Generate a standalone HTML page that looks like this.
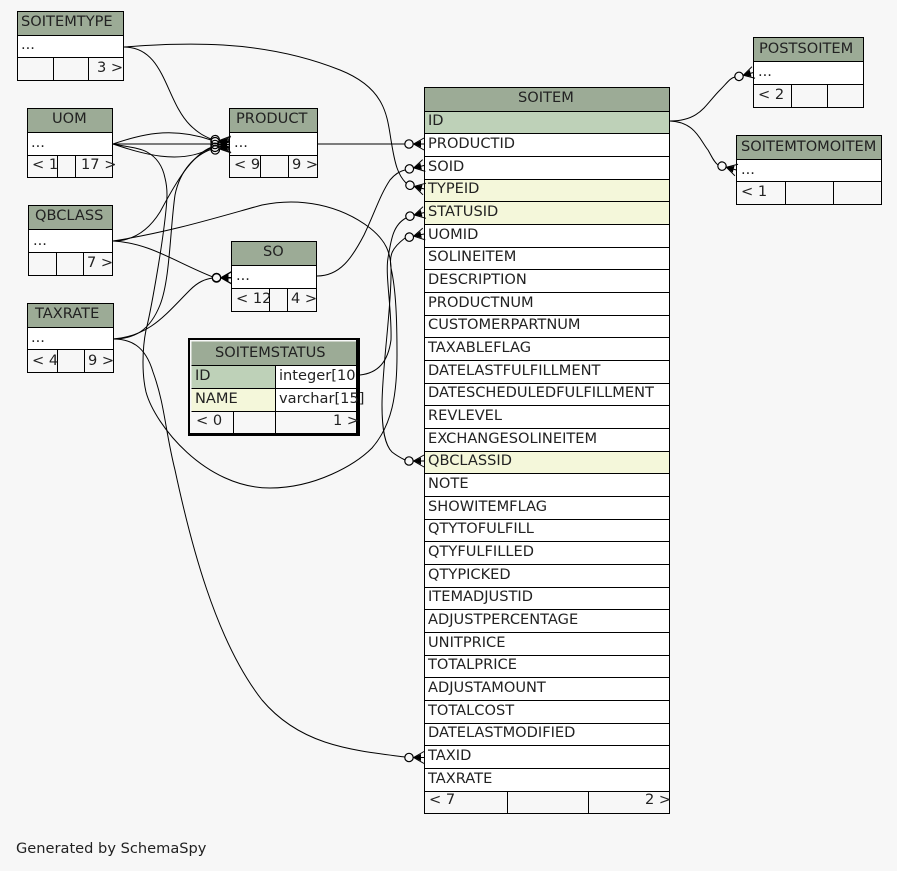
<!DOCTYPE html>
<html><head><meta charset="utf-8"><style>
html,body{margin:0;padding:0;background:#f7f7f7}
svg{display:block}
text{font-family:"DejaVu Sans","Liberation Sans",sans-serif;font-size:14.6px;fill:#222}
.t{fill:none;stroke:#000;stroke-width:1}
.e{fill:none;stroke:#000;stroke-width:1}
</style></head><body>
<svg xmlns="http://www.w3.org/2000/svg" width="897" height="871" viewBox="0 0 897 871">
<defs>
<g id="h">
<circle cx="-15" cy="0" r="4.2" fill="none" stroke="#000" stroke-width="1.2"/>
<path d="M-10.5,0 L-3,-3.5 L-3,3.5 Z" fill="#000"/>
<path d="M-10.5,0 L0,-6 M-10.5,0 L0,6 M-10.5,0 L0,0" stroke="#000" stroke-width="1" fill="none"/>
</g>
</defs>
<rect width="897" height="871" fill="#f7f7f7"/>

<!-- edges -->
<g class="e">
<path d="M317,144 L405,144"/>
<path d="M124,47 C165,47 165,100 190,125 C198,133 204,136 211,139"/>
<path d="M124,47 C180,43 260,38 340,70 C385,88 387,115 391,140 C395,165 398,175 406,183"/>
<path d="M113,144 L211,144"/>
<path d="M113,144 C140,135 170,126 211,140"/>
<path d="M113,144 C140,153 180,166 211,148"/>
<path d="M113,144 C128,147 140,148 147,152 C158,158 163,168 165,178 C168,190 167,200 166,210 C162,250 150,315 146,330 C142,350 142,375 146,392 C155,425 205,488 270,488 C315,488 355,465 372,448 C392,425 397,395 397,355 C397,320 396,290 391,268 C389,255 392,248 405,238"/>
<path d="M113,241 C135,241 150,228 160,212 C172,190 190,155 212,147"/>
<path d="M113,339 C135,339 150,330 160,305 C170,280 170,230 175,195 C180,170 195,155 212,149"/>
<path d="M113,241 C170,232 215,218 262,205 C300,197 340,205 370,228 C385,240 392,252 391,275 C391,310 382,370 382,405 C382,430 385,445 392,452 C397,456 401,458 405,460"/>
<path d="M113,241 C150,243 175,262 213,277"/>
<path d="M113,339 C150,336 165,315 190,290 C198,282 205,279 213,278"/>
<path d="M113,339 C130,339 145,345 153,372 C165,405 165,430 175,470 C190,540 215,640 262,700 C300,745 350,750 405,757"/>
<path d="M360,375 C378,373 388,362 391,340 C392,310 385,275 388,258 C391,240 393,225 406,218"/>
<path d="M317,276 C340,276 352,258 364,235 C375,212 380,195 390,180 C395,174 400,171 405,170"/>
<path d="M670,121 C700,121 705,105 720,90 C727,83 730,78 735,77"/>
<path d="M670,121 C695,122 700,140 708,150 C712,157 714,162 718,165"/>
</g>

<!-- SOITEMTYPE -->
<rect x="17.5" y="11.5" width="106" height="24" fill="#9cab96"/>
<rect x="17.5" y="35.5" width="106" height="22" fill="#fff"/>
<path class="t" d="M17.5,11.5H123.5V80.5H17.5Z M17.5,35.5H123.5 M17.5,57.5H123.5 M53.5,57.5V80.5 M88.5,57.5V80.5"/>
<text x="21" y="26">SOITEMTYPE</text><text x="21" y="49">...</text><text x="97" y="72">3 &gt;</text>

<!-- UOM -->
<rect x="27.5" y="108.5" width="85" height="24" fill="#9cab96"/>
<rect x="27.5" y="132.5" width="85" height="23" fill="#fff"/>
<path class="t" d="M27.5,108.5H112.5V177.5H27.5Z M27.5,132.5H112.5 M27.5,155.5H112.5 M57.5,155.5V177.5 M75.5,155.5V177.5"/>
<text x="52" y="123">UOM</text><text x="31" y="147">...</text><text x="32" y="169">&lt; 1</text><text x="81" y="169">17 &gt;</text>

<!-- PRODUCT -->
<rect x="229.5" y="108.5" width="88" height="24" fill="#9cab96"/>
<rect x="229.5" y="132.5" width="88" height="23" fill="#fff"/>
<path class="t" d="M229.5,108.5H317.5V177.5H229.5Z M229.5,132.5H317.5 M229.5,155.5H317.5 M260.5,155.5V177.5 M288.5,155.5V177.5"/>
<text x="236" y="123">PRODUCT</text><text x="234" y="147">...</text><text x="234" y="169">&lt; 9</text><text x="292" y="169">9 &gt;</text>

<!-- QBCLASS -->
<rect x="28.5" y="205.5" width="84" height="24" fill="#9cab96"/>
<rect x="28.5" y="229.5" width="84" height="23" fill="#fff"/>
<path class="t" d="M28.5,205.5H112.5V275.5H28.5Z M28.5,229.5H112.5 M28.5,252.5H112.5 M56.5,252.5V275.5 M83.5,252.5V275.5"/>
<text x="35" y="220">QBCLASS</text><text x="33" y="245">...</text><text x="87" y="267">7 &gt;</text>

<!-- TAXRATE -->
<rect x="27.5" y="303.5" width="86" height="24" fill="#9cab96"/>
<rect x="27.5" y="327.5" width="86" height="22" fill="#fff"/>
<path class="t" d="M27.5,303.5H113.5V372.5H27.5Z M27.5,327.5H113.5 M27.5,349.5H113.5 M57.5,349.5V372.5 M84.5,349.5V372.5"/>
<text x="35" y="318">TAXRATE</text><text x="31" y="342">...</text><text x="32" y="365">&lt; 4</text><text x="88" y="365">9 &gt;</text>

<!-- SO -->
<rect x="231.5" y="241.5" width="85" height="24" fill="#9cab96"/>
<rect x="231.5" y="265.5" width="85" height="23" fill="#fff"/>
<path class="t" d="M231.5,241.5H316.5V311.5H231.5Z M231.5,265.5H316.5 M231.5,288.5H316.5 M269.5,288.5V311.5 M287.5,288.5V311.5"/>
<text x="263" y="256">SO</text><text x="236" y="280">...</text><text x="236" y="303">&lt; 12</text><text x="291" y="303">4 &gt;</text>

<!-- SOITEMSTATUS -->
<rect x="189" y="339" width="170" height="96" fill="#f7f7f7" stroke="#000" stroke-width="2"/>
<rect x="191.5" y="341.5" width="165" height="24" fill="#9cab96"/>
<rect x="191.5" y="365.5" width="84" height="23" fill="#bed1b8"/>
<rect x="191.5" y="388.5" width="84" height="23" fill="#f4f7da"/>
<rect x="275.5" y="365.5" width="81" height="46" fill="#fff"/>
<path class="t" d="M191.5,365.5H356.5 M191.5,388.5H356.5 M191.5,411.5H356.5 M275.5,365.5V433 M233.5,411.5V433"/>
<rect x="356" y="339" width="4" height="97" fill="#000"/>
<rect x="188" y="433" width="172" height="3" fill="#000"/>
<text x="215" y="357">SOITEMSTATUS</text>
<text x="195" y="380">ID</text><text x="279" y="380">integer[10</text>
<text x="195" y="403">NAME</text><text x="279" y="403">varchar[15]</text>
<text x="196" y="425">&lt; 0</text><text x="333" y="425">1 &gt;</text>

<!-- POSTSOITEM -->
<rect x="753.5" y="37.5" width="110" height="24" fill="#9cab96"/>
<rect x="753.5" y="61.5" width="110" height="23" fill="#fff"/>
<path class="t" d="M753.5,37.5H863.5V107.5H753.5Z M753.5,61.5H863.5 M753.5,84.5H863.5 M791.5,84.5V107.5 M827.5,84.5V107.5"/>
<text x="759" y="53">POSTSOITEM</text><text x="758" y="76">...</text><text x="758" y="99">&lt; 2</text>

<!-- SOITEMTOMOITEM -->
<rect x="736.5" y="135.5" width="145" height="24" fill="#9cab96"/>
<rect x="736.5" y="159.5" width="145" height="22" fill="#fff"/>
<path class="t" d="M736.5,135.5H881.5V204.5H736.5Z M736.5,159.5H881.5 M736.5,181.5H881.5 M785.5,181.5V204.5 M833.5,181.5V204.5"/>
<text x="741" y="151">SOITEMTOMOITEM</text><text x="741" y="174">...</text><text x="741" y="196">&lt; 1</text>

<!-- SOITEM -->
<rect x="424.5" y="87.5" width="245" height="24" fill="#9cab96"/>
<rect x="424.5" y="111.5" width="245" height="680" fill="#fff"/>
<rect x="424.5" y="111.5" width="245" height="22" fill="#bed1b8"/>
<rect x="424.5" y="179.5" width="245" height="45" fill="#f4f7da"/>
<rect x="424.5" y="451.5" width="245" height="22" fill="#f4f7da"/>
<path class="t" d="M424.5,87.5H669.5V813.5H424.5Z M424.5,111.5H669.5 M424.5,133.5H669.5 M424.5,156.5H669.5 M424.5,179.5H669.5 M424.5,201.5H669.5 M424.5,224.5H669.5 M424.5,247.5H669.5 M424.5,269.5H669.5 M424.5,292.5H669.5 M424.5,315.5H669.5 M424.5,337.5H669.5 M424.5,360.5H669.5 M424.5,383.5H669.5 M424.5,405.5H669.5 M424.5,428.5H669.5 M424.5,451.5H669.5 M424.5,473.5H669.5 M424.5,496.5H669.5 M424.5,519.5H669.5 M424.5,541.5H669.5 M424.5,564.5H669.5 M424.5,587.5H669.5 M424.5,609.5H669.5 M424.5,632.5H669.5 M424.5,655.5H669.5 M424.5,677.5H669.5 M424.5,700.5H669.5 M424.5,723.5H669.5 M424.5,745.5H669.5 M424.5,768.5H669.5 M424.5,791.5H669.5 M507.5,791.5V813.5 M588.5,791.5V813.5"/>
<text x="518" y="102">SOITEM</text>
<text x="428" y="125">ID</text>
<text x="428" y="148">PRODUCTID</text>
<text x="428" y="171">SOID</text>
<text x="428" y="193">TYPEID</text>
<text x="428" y="216">STATUSID</text>
<text x="428" y="239">UOMID</text>
<text x="428" y="261">SOLINEITEM</text>
<text x="428" y="284">DESCRIPTION</text>
<text x="428" y="307">PRODUCTNUM</text>
<text x="428" y="329">CUSTOMERPARTNUM</text>
<text x="428" y="352">TAXABLEFLAG</text>
<text x="428" y="375">DATELASTFULFILLMENT</text>
<text x="428" y="397">DATESCHEDULEDFULFILLMENT</text>
<text x="428" y="420">REVLEVEL</text>
<text x="428" y="443">EXCHANGESOLINEITEM</text>
<text x="428" y="465">QBCLASSID</text>
<text x="428" y="488">NOTE</text>
<text x="428" y="511">SHOWITEMFLAG</text>
<text x="428" y="533">QTYTOFULFILL</text>
<text x="428" y="556">QTYFULFILLED</text>
<text x="428" y="579">QTYPICKED</text>
<text x="428" y="601">ITEMADJUSTID</text>
<text x="428" y="624">ADJUSTPERCENTAGE</text>
<text x="428" y="647">UNITPRICE</text>
<text x="428" y="669">TOTALPRICE</text>
<text x="428" y="692">ADJUSTAMOUNT</text>
<text x="428" y="715">TOTALCOST</text>
<text x="428" y="737">DATELASTMODIFIED</text>
<text x="428" y="760">TAXID</text>
<text x="428" y="783">TAXRATE</text>
<text x="429" y="804">&lt; 7</text>
<text x="645" y="804">2 &gt;</text>

<!-- heads -->
<use href="#h" transform="translate(424,144)"/>
<use href="#h" transform="translate(424,165.5) rotate(-13)"/>
<use href="#h" transform="translate(424.5,189) rotate(14.5)"/>
<use href="#h" transform="translate(424.5,212.5) rotate(-14)"/>
<use href="#h" transform="translate(424,234) rotate(-12)"/>
<use href="#h" transform="translate(424,461)"/>
<use href="#h" transform="translate(424,757.5)"/>
<use href="#h" transform="translate(753.5,72.5) rotate(-15)"/>
<use href="#h" transform="translate(736.5,170) rotate(15)"/>
<use href="#h" transform="translate(230,142) rotate(9)"/>
<use href="#h" transform="translate(230,143) rotate(5)"/>
<use href="#h" transform="translate(230,144.5)"/>
<use href="#h" transform="translate(230,146) rotate(-5)"/>
<use href="#h" transform="translate(230,147) rotate(-11)"/>
<use href="#h" transform="translate(231.5,277.5)"/>
<use href="#h" transform="translate(231.5,278)"/>

<text x="16" y="853">Generated by SchemaSpy</text>
</svg>
</body></html>
